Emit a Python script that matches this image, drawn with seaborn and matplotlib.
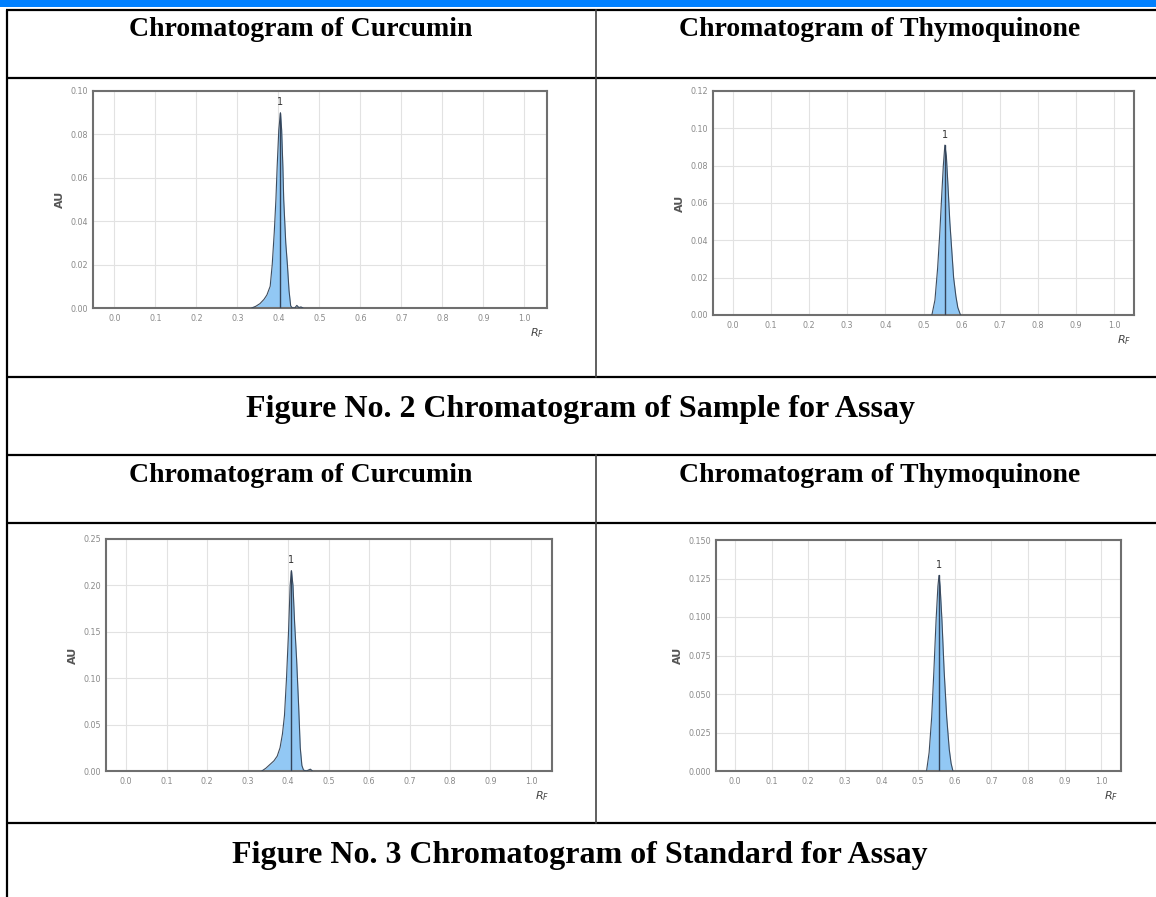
import matplotlib
matplotlib.use("Agg")
import matplotlib.pyplot as plt
from matplotlib.patches import Rectangle
import seaborn as sns

W, H = 1156, 897

# peak traces (RF, AU)
curcumin_sample_rf = [0.335, 0.345, 0.355, 0.365, 0.372, 0.380, 0.385, 0.390, 0.394, 0.397, 0.401,
                      0.405, 0.408, 0.411, 0.413, 0.418, 0.422, 0.426, 0.430, 0.434, 0.440, 0.445,
                      0.450, 0.455, 0.460]
curcumin_sample_au = [0.0, 0.0008, 0.002, 0.004, 0.006, 0.010, 0.020, 0.035, 0.050, 0.065, 0.082,
                      0.090, 0.082, 0.065, 0.050, 0.030, 0.020, 0.008, 0.001, 0.0, 0.0, 0.0012,
                      0.0002, 0.0005, 0.0]

thymo_sample_rf = [0.522, 0.530, 0.537, 0.543, 0.548, 0.552, 0.556, 0.560, 0.564, 0.569, 0.574,
                   0.579, 0.585, 0.590, 0.597]
thymo_sample_au = [0.0, 0.008, 0.025, 0.045, 0.065, 0.080, 0.091, 0.085, 0.070, 0.050, 0.035,
                   0.020, 0.010, 0.004, 0.0]

curcumin_std_rf = [0.335, 0.345, 0.355, 0.365, 0.373, 0.380, 0.386, 0.391, 0.396, 0.401, 0.405,
                   0.408, 0.412, 0.416, 0.421, 0.426, 0.430, 0.434, 0.438, 0.445, 0.450, 0.455, 0.460]
curcumin_std_au = [0.0, 0.003, 0.007, 0.011, 0.016, 0.025, 0.040, 0.060, 0.100, 0.150, 0.200,
                   0.216, 0.200, 0.160, 0.120, 0.070, 0.025, 0.006, 0.001, 0.0, 0.001, 0.002, 0.0]

thymo_std_rf = [0.523, 0.530, 0.537, 0.543, 0.549, 0.554, 0.557, 0.560, 0.565, 0.571, 0.578,
                0.585, 0.590, 0.595]
thymo_std_au = [0.0, 0.012, 0.035, 0.065, 0.098, 0.120, 0.127, 0.120, 0.098, 0.065, 0.035,
                0.014, 0.005, 0.0]

x_ticks = [0.0, 0.1, 0.2, 0.3, 0.4, 0.5, 0.6, 0.7, 0.8, 0.9, 1.0]

header_left = "Chromatogram of Curcumin"
header_right = "Chromatogram of Thymoquinone"
caption_sample = "Figure No. 2 Chromatogram of Sample for Assay"
caption_standard = "Figure No. 3 Chromatogram of Standard for Assay"

sns.set_theme(style="white")
plt.rcParams['font.family'] = ['DejaVu Sans']

fig = plt.figure(figsize=(W / 100, H / 100), dpi=100)

# page / table layer in pixel coordinates
bg = fig.add_axes([0, 0, 1, 1])
bg.set_xlim(0, W)
bg.set_ylim(H, 0)
bg.axis('off')
bg.add_patch(Rectangle((0, 0), W, 7, color='#0080ff', lw=0))
for y in [10, 78, 377, 455, 523, 823]:
    bg.plot([6, W], [y, y], color='black', lw=1.6, solid_capstyle='butt')
bg.plot([7, 7], [10, H], color='black', lw=1.6)
bg.plot([596, 596], [10, 377], color='#444444', lw=1.2)
bg.plot([596, 596], [455, 823], color='#444444', lw=1.2)

serif = dict(family='Liberation Serif', weight='bold', color='black',
             ha='center', va='center')
bg.text(301, 29, header_left, fontsize=20, **serif)
bg.text(880, 29, header_right, fontsize=20, **serif)
bg.text(301, 476, header_left, fontsize=20, **serif)
bg.text(880, 476, header_right, fontsize=20, **serif)
bg.text(580, 410, caption_sample, fontsize=23, **serif)
bg.text(580, 856, caption_standard, fontsize=23, **serif)


def panel(box, rf, au, peak_rf, peak_au, y_ticks, fmt, xlim):
    l, t, r, b = box
    ax = fig.add_axes([l / W, 1 - b / H, (r - l) / W, (b - t) / H])
    ax.fill_between(rf, au, 0, color='#92c8f4', lw=0, zorder=2)
    sns.lineplot(x=rf, y=au, ax=ax, color='#3d4c5e', lw=0.8, sort=False, zorder=3)
    ax.plot([peak_rf, peak_rf], [0, peak_au], color='#34445a', lw=1.0, zorder=4)
    ax.annotate('1', (peak_rf, peak_au), xytext=(0, 4), textcoords='offset points',
                ha='center', va='bottom', fontsize=7, color='#333333')
    ax.set_xlim(*xlim)
    ax.set_ylim(y_ticks[0], y_ticks[-1])
    ax.set_xticks(x_ticks)
    ax.set_xticklabels([f"{v:.1f}" for v in x_ticks])
    ax.set_yticks(y_ticks)
    ax.set_yticklabels([fmt.format(v) for v in y_ticks])
    ax.grid(True, color='#e2e2e2', lw=0.8)
    ax.set_axisbelow(True)
    ax.tick_params(axis='x', length=0, labelsize=5.8, labelcolor='#8a8a8a', pad=4.5)
    ax.tick_params(axis='y', length=0, labelsize=5.8, labelcolor='#8a8a8a', pad=3.5)
    for s in ax.spines.values():
        s.set_color('#6f6f6f')
        s.set_linewidth(1.5)
    ax.set_xlabel('')
    ax.set_ylabel('AU', fontsize=8, fontweight='bold', color='#555555', labelpad=4)
    ax.text(1.0 - 10 / (r - l), -25 / (b - t), r'$R_F$', transform=ax.transAxes,
            ha='center', va='center', fontsize=8, color='#444444')
    return ax


panel((93, 91, 547, 308), curcumin_sample_rf, curcumin_sample_au, 0.405, 0.090,
      [0.0, 0.02, 0.04, 0.06, 0.08, 0.10], "{:.2f}", (-0.052, 1.055))
panel((713, 91, 1134, 315), thymo_sample_rf, thymo_sample_au, 0.556, 0.091,
      [0.0, 0.02, 0.04, 0.06, 0.08, 0.10, 0.12], "{:.2f}", (-0.052, 1.052))
panel((106, 539, 552, 771), curcumin_std_rf, curcumin_std_au, 0.408, 0.216,
      [0.0, 0.05, 0.10, 0.15, 0.20, 0.25], "{:.2f}", (-0.05, 1.052))
panel((716, 540, 1121, 771), thymo_std_rf, thymo_std_au, 0.557, 0.127,
      [0.0, 0.025, 0.05, 0.075, 0.10, 0.125, 0.15], "{:.3f}", (-0.052, 1.054))

fig.savefig('out.png', dpi=100)
